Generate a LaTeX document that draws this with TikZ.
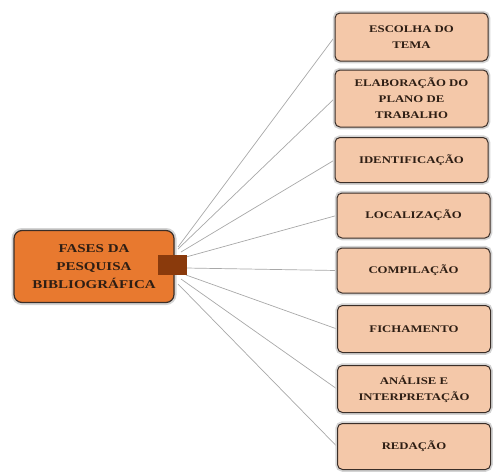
\documentclass[tikz,border=0pt]{standalone}
\usepackage{fontspec}
\setmainfont{Liberation Serif}
\newfontfamily\boxfont[FakeStretch=1.25]{Liberation Serif}
\usetikzlibrary{backgrounds}
\definecolor{hubfill}{HTML}{E8792F}
\definecolor{sqfill}{HTML}{8A3A0C}
\definecolor{peach}{HTML}{F4C8A9}
\definecolor{edge}{HTML}{3A2E28}
\definecolor{txt}{HTML}{2E1E14}
\definecolor{conncol}{HTML}{A8A8A8}
\definecolor{glow}{HTML}{D4D4D4}
\tikzset{
  rbox/.style={draw=edge, line width=1pt, fill=peach, rounded corners=5pt,
    minimum width=153pt, minimum height=46pt, align=center, text=txt,
    font=\boxfont\bfseries\fontsize{10.2}{16}\selectfont, inner sep=2pt,
    preaction={draw=glow, line width=4.5pt}},
  hubbox/.style={draw=edge, line width=1.2pt, fill=hubfill, rounded corners=8pt,
    minimum width=160pt, minimum height=72pt, align=center, text=txt,
    font=\boxfont\bfseries\fontsize{12}{18}\selectfont,
    preaction={draw=glow, line width=5pt}},
  sqbox/.style={fill=sqfill, minimum width=29pt, minimum height=20pt, inner sep=0pt},
  conn/.style={draw=conncol, line width=0.7pt}
}
\begin{document}
\begin{tikzpicture}[x=1pt,y=-1pt]
\useasboundingbox (0,0) rectangle (495,472);
\node[hubbox] (hub) at (94,266.5) {FASES DA\\PESQUISA\\BIBLIOGRÁFICA};
\node[sqbox] (sq) at (172.5,265) {};
\node[rbox, minimum height=48pt] (b1) at (411.5,37) {ESCOLHA DO\\TEMA};
\node[rbox, minimum height=57pt] (b2) at (411.5,98.5) {ELABORAÇÃO DO\\PLANO DE\\TRABALHO};
\node[rbox, minimum height=45pt] (b3) at (411.5,160) {IDENTIFICAÇÃO};
\node[rbox, minimum height=45pt] (b4) at (413.5,215.5) {LOCALIZAÇÃO};
\node[rbox, minimum height=45pt] (b5) at (413.5,270.5) {COMPILAÇÃO};
\node[rbox, minimum height=47pt] (b6) at (414,329) {FICHAMENTO};
\node[rbox, minimum height=47pt] (b7) at (414,389) {ANÁLISE E\\INTERPRETAÇÃO};
\node[rbox, minimum height=46pt] (b8) at (414,446.5) {REDAÇÃO};
\coordinate (s1) at (178,247);
\coordinate (s2) at (178,249);
\coordinate (s3) at (181,252);
\coordinate (s4) at (186,257);
\coordinate (s5) at (186,268);
\coordinate (s6) at (186,275);
\coordinate (s7) at (181,279);
\coordinate (s8) at (178,284);
\begin{scope}[on background layer]
\draw[conn] (s1) -- (b1.west);
\draw[conn] (s2) -- (b2.west);
\draw[conn] (s3) -- (b3.west);
\draw[conn] (s4) -- (b4.west);
\draw[conn] (s5) -- (b5.west);
\draw[conn] (s6) -- (b6.west);
\draw[conn] (s7) -- (b7.west);
\draw[conn] (s8) -- (b8.west);
\end{scope}
\end{tikzpicture}
\end{document}
